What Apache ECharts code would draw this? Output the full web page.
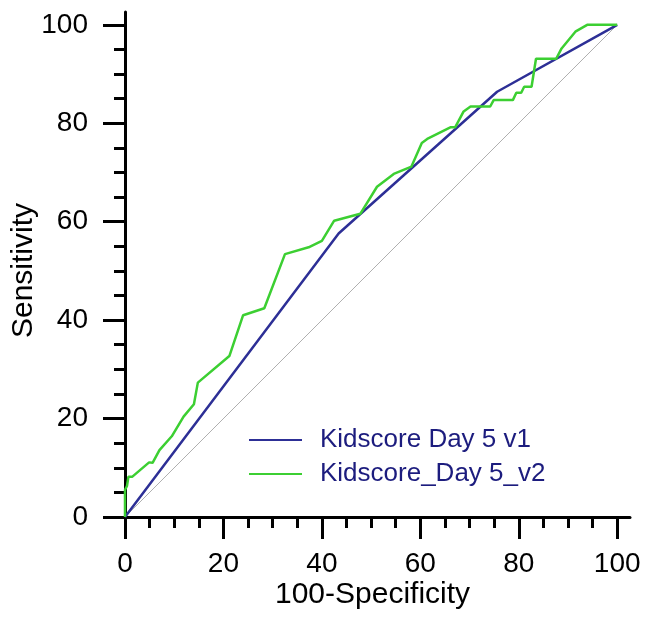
<!DOCTYPE html>
<html>
<head>
<meta charset="utf-8">
<script src="https://cdn.jsdelivr.net/npm/echarts@6/dist/echarts.min.js"></script>
<style>
html,body{margin:0;padding:0;background:#fff;}
#chart{width:646px;height:621px;}
</style>
</head>
<body>
<div id="chart"></div>
<script>
const seriesNames = ['Kidscore Day 5 v1', 'Kidscore_Day 5_v2'];
const v1Points = [[0,0],[43.4,57.6],[75.6,86.4],[100,100]];
const v2Points = [[0,0],[0,5.5],[0.4,6.3],[0.7,8.2],[1.5,8.2],[4.9,11.1],[5.6,11.0],[7,13.6],[9.5,16.4],[11.9,20.4],[14,22.9],[14.8,27.3],[21.2,32.7],[24,41],[28.3,42.4],[32.5,53.4],[37.3,54.8],[40,56.1],[42.5,60.2],[47.8,61.6],[51.2,67.1],[54.6,69.7],[58.2,71.2],[60.3,76],[61.4,76.8],[66.2,79.2],[67.1,79.2],[68.8,82.4],[70.2,83.4],[74.2,83.4],[74.9,84.7],[78.8,84.7],[79.5,86.2],[80.5,86.2],[81.1,87.4],[82.6,87.4],[83.5,93.1],[87.6,93.1],[88.7,95.2],[91.5,98.6],[93.9,100],[100,100]];
const diagonalPoints = [[0,0],[100,100]];
const majorTicks = [0,20,40,60,80,100];
const minorTicks = [5,10,15,25,30,35,45,50,55,65,70,75,85,90,95];
const xTitle = '100-Specificity';
const yTitle = 'Sensitivity';

const FONT = '"Liberation Sans", Arial, sans-serif';
const chart = echarts.init(document.getElementById('chart'));
const axisMax = 102.6;

function majorAxis(isX) {
  return {
    type: 'value', min: 0, max: axisMax,
    position: isX ? 'bottom' : 'left',
    name: isX ? xTitle : yTitle,
    nameLocation: 'middle',
    nameMoveOverlap: false,
    nameGap: isX ? 63 : 86,
    nameTextStyle: {fontFamily: FONT, fontSize: 30, color: '#000', padding: isX ? [0, 10, 0, 0] : [0, 12, 0, 0]},
    axisLine: {show: true, onZero: false, lineStyle: {color: '#000', width: 3}},
    axisTick: {show: true, customValues: majorTicks, length: 22, lineStyle: {color: '#000', width: 3}},
    axisLabel: {show: true, customValues: majorTicks, margin: isX ? 33 : 37, fontFamily: FONT, fontSize: 28, color: '#000'},
    splitLine: {show: false},
    minorTick: {show: false}
  };
}
function minorAxis(isX) {
  return {
    type: 'value', min: 0, max: axisMax,
    position: isX ? 'bottom' : 'left',
    axisLine: {show: false, onZero: false},
    axisTick: {show: true, customValues: minorTicks, length: 11, lineStyle: {color: '#000', width: 3}},
    axisLabel: {show: false},
    splitLine: {show: false}
  };
}

chart.setOption({
  animation: false,
  backgroundColor: '#fff',
  grid: {left: 125, right: 16, top: 12, bottom: 104, containLabel: false, outerBoundsMode: 'none'},
  xAxis: [majorAxis(true), minorAxis(true)],
  yAxis: [majorAxis(false), minorAxis(false)],
  legend: {
    orient: 'vertical', left: 244, top: 422, itemWidth: 53, itemHeight: 2, itemGap: 8,
    icon: 'rect',
    data: seriesNames,
    textStyle: {fontFamily: FONT, fontSize: 26, color: '#1c1c7e', padding: [0,0,0,13]}
  },
  series: [
    {type: 'line', data: diagonalPoints, xAxisIndex: 0, yAxisIndex: 0, symbol: 'none', silent: true,
     lineStyle: {color: '#b0b0b0', width: 1}},
    {type: 'line', name: seriesNames[0], data: v1Points, xAxisIndex: 0, yAxisIndex: 0, symbol: 'none',
     itemStyle: {color: '#2d2f96'}, lineStyle: {color: '#2d2f96', width: 2.5}},
    {type: 'line', name: seriesNames[1], data: v2Points, xAxisIndex: 0, yAxisIndex: 0, symbol: 'none',
     itemStyle: {color: '#3ccf32'}, lineStyle: {color: '#3ccf32', width: 2.5}}
  ]
});
</script>
</body>
</html>
